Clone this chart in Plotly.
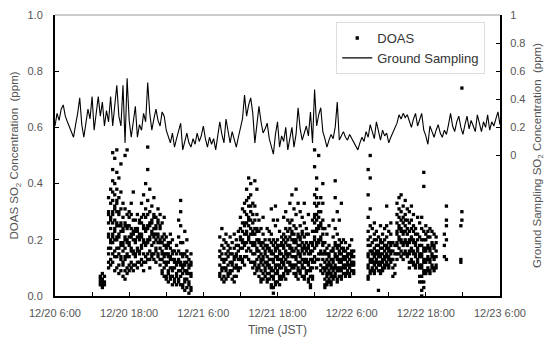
import plotly.graph_objects as go
import pandas as pd

# Ground sampling SO2 (ppm, right axis): readings every 20 minutes from 12/20 6:00
gs_start = "2012-12-20 06:00"
gs_step = "20min"
gs_ppm = [
    0.21, 0.30, 0.25, 0.33, 0.36, 0.28, 0.24, 0.20, 0.17, 0.13, 0.22, 0.30, 0.41, 0.22, 0.13, 0.25,
    0.33, 0.26, 0.42, 0.18, 0.30, 0.42, 0.28, 0.38, 0.21, 0.32, 0.24, 0.42, 0.21, 0.35, 0.50, 0.28,
    0.21, 0.50, 0.09, 0.55, 0.25, 0.13, 0.24, 0.35, 0.13, 0.22, 0.18, 0.30, 0.24, 0.52, 0.30, 0.18,
    0.26, 0.33, 0.25, 0.21, 0.31, 0.28, 0.18, 0.14, 0.09, 0.16, 0.06, 0.12, 0.18, 0.23, 0.04, 0.10,
    0.16, 0.09, 0.06, 0.12, 0.08, 0.16, 0.10, 0.14, 0.21, 0.12, 0.06, 0.13, 0.08, 0.12, 0.04, 0.14,
    0.24, 0.15, 0.09, 0.26, 0.17, 0.09, 0.17, 0.11, 0.06, 0.13, 0.20, 0.26, 0.43, 0.28, 0.36, 0.41,
    0.30, 0.09, 0.22, 0.35, 0.24, 0.16, 0.19, 0.23, 0.12, 0.07, 0.01, 0.15, 0.24, 0.06, 0.14, 0.10,
    0.20, 0.04, 0.12, 0.20, 0.06, 0.15, 0.34, 0.19, 0.11, 0.16, 0.21, 0.14, 0.31, 0.09, 0.47, 0.21,
    0.29, 0.34, 0.17, 0.12, 0.06, 0.11, 0.15, 0.12, 0.20, 0.38, 0.11, 0.14, 0.17, 0.13, 0.11, 0.15,
    0.12, 0.10, 0.07, 0.04, 0.09, 0.13, 0.10, 0.17, 0.13, 0.22, 0.17, 0.12, 0.24, 0.17, 0.11, 0.18,
    0.14, 0.16, 0.09, 0.13, 0.16, 0.19, 0.23, 0.29, 0.26, 0.30, 0.27, 0.29, 0.24, 0.20, 0.26, 0.30,
    0.21, 0.25, 0.30, 0.18, 0.14, 0.08, 0.21, 0.17, 0.13, 0.18, 0.22, 0.16, 0.13, 0.18, 0.15, 0.22,
    0.30, 0.21, 0.17, 0.24, 0.28, 0.20, 0.15, 0.22, 0.28, 0.19, 0.25, 0.21, 0.17, 0.29, 0.22, 0.17,
    0.24, 0.20, 0.29, 0.18, 0.24, 0.21, 0.26, 0.31, 0.22]

# DOAS SO2 (ppm, left axis): blocks of 20-minute columns, each column lists its readings
doas_step = "20min"
doas_block0_start = "2012-12-20 13:20"
doas_block0 = [[0.04, 0.05, 0.07, 0.06], [0.03, 0.05, 0.08, 0.06, 0.04], [0.04, 0.07, 0.05]]

doas_block1_start = "2012-12-20 14:40"
doas_block1 = [
    [.10, .12, .15, .17, .21, .22, .26, .29, .30, .35], [.11, .13, .17, .19, .20, .24, .27, .28, .33, .38],
    [.12, .15, .19, .21, .22, .26, .29, .30, .34, .37, .41, .45, .51],
    [.09, .14, .16, .20, .23, .24, .27, .31, .32, .36, .40, .49],
    [.10, .14, .17, .20, .21, .25, .26, .30, .33, .34, .38, .44, .52],
    [.08, .11, .15, .17, .21, .22, .25, .29, .30, .35, .42], [.09, .13, .14, .18, .19, .23, .25, .26, .31, .37, .47],
    [.07, .11, .12, .16, .18, .19, .23, .24, .28, .33], [.06, .09, .13, .14, .17, .20, .21, .25, .26, .31, .50],
    [.08, .10, .14, .15, .19, .20, .24, .25, .29, .52], [.09, .11, .14, .18, .19, .21, .25, .28, .30],
    [.10, .12, .16, .17, .21, .22, .24, .29, .33], [.09, .11, .15, .16, .20, .22, .23, .27, .37],
    [.11, .14, .15, .19, .20, .23, .24, .27], [.10, .12, .16, .17, .21, .23, .24, .29],
    [.12, .15, .16, .20, .21, .22, .26, .27], [.11, .13, .17, .18, .21, .22, .26, .28, .33],
    [.09, .12, .15, .19, .20, .24, .25, .29, .36], [.12, .14, .18, .19, .23, .24, .28, .31, .40],
    [.13, .15, .19, .20, .24, .25, .29, .34, .45, .53], [.10, .13, .16, .20, .21, .25, .26, .30, .38],
    [.14, .15, .18, .22, .23, .26, .27, .32], [.13, .15, .19, .21, .22, .24, .28, .29, .35],
    [.12, .16, .17, .20, .22, .24, .25, .28], [.14, .15, .19, .21, .22, .26, .27, .31],
    [.11, .13, .17, .19, .20, .24, .25, .29], [.08, .09, .13, .15, .16, .19, .21, .26],
    [.07, .10, .12, .14, .15, .18, .20, .22, .28], [.06, .07, .11, .12, .15, .17, .18, .21],
    [.05, .08, .09, .12, .14, .15, .18, .19], [.06, .07, .10, .13, .14, .17, .19, .22],
    [.04, .07, .09, .10, .13, .15, .16, .20], [.05, .06, .10, .12, .13, .16],
    [.04, .07, .08, .11, .12, .15, .18], [.05, .06, .09, .12, .13, .16, .21, .27],
    [.04, .07, .09, .11, .12, .15, .19, .25, .30, .34], [.03, .04, .08, .10, .11, .14, .15, .19],
    [.02, .05, .06, .09, .11, .12, .15, .23], [.03, .06, .08, .09, .12, .14, .16, .20],
    [.01, .04, .05, .08, .10, .11, .13], [.02, .03, .07, .08, .11, .12, .15]]

doas_block2_start = "2012-12-21 08:40"
doas_block2 = [
    [.07, .08, .11, .14, .16, .21], [.06, .09, .10, .13, .15, .18, .24], [.05, .07, .10, .12, .13, .17, .20],
    [.06, .09, .10, .13, .15, .19, .22], [.07, .08, .11, .14, .16, .18], [.08, .09, .12, .15, .17, .21],
    [.06, .09, .11, .12, .15, .19], [.05, .07, .10, .13, .14, .17, .22], [.07, .10, .11, .14, .15, .18, .20],
    [.09, .10, .13, .16, .18, .23], [.10, .13, .14, .17, .20, .21, .24, .28], [.12, .13, .17, .19, .20, .23, .26, .31],
    [.11, .14, .18, .19, .22, .25, .26, .30, .33], [.14, .16, .19, .22, .23, .26, .29, .34, .38],
    [.13, .17, .20, .21, .25, .27, .28, .32, .35, .42], [.12, .16, .19, .22, .24, .27, .30, .32, .36, .40],
    [.10, .12, .15, .18, .19, .22, .23, .26, .29, .33], [.08, .11, .12, .15, .18, .19, .22, .24, .27, .32, .41],
    [.09, .10, .13, .16, .17, .20, .23, .24, .29, .38], [.07, .10, .11, .14, .16, .19, .20, .23, .27],
    [.05, .06, .09, .12, .13, .15, .18, .19, .24], [.06, .08, .11, .13, .14, .17, .19, .22, .28],
    [.07, .09, .10, .12, .15, .16, .18, .20], [.05, .06, .08, .11, .12, .14, .17, .18, .24],
    [.06, .08, .10, .11, .13, .16, .17, .20, .23], [.03, .04, .07, .09, .10, .13, .15, .16, .19, .22, .31],
    [.01, .03, .06, .07, .09, .12, .13, .15, .18, .20, .27], [.04, .05, .08, .10, .11, .14, .16, .17, .19, .25, .32],
    [.05, .08, .09, .11, .13, .14, .17, .18, .20, .27], [.04, .06, .07, .10, .11, .13, .15, .16, .18, .23],
    [.06, .07, .10, .12, .13, .15, .18, .19, .21], [.07, .08, .11, .12, .14, .17, .18, .20, .22, .28],
    [.06, .09, .10, .13, .15, .16, .19, .21, .24, .30], [.08, .09, .12, .14, .15, .18, .20, .23, .27],
    [.09, .11, .12, .15, .17, .18, .21, .24, .26, .33], [.10, .11, .14, .16, .17, .20, .22, .23, .27, .36],
    [.08, .10, .11, .14, .16, .19, .20, .22, .25, .31], [.07, .08, .11, .13, .14, .17, .19, .20, .24, .29, .38],
    [.06, .09, .10, .12, .15, .16, .18, .21, .22, .33], [.08, .09, .12, .14, .15, .18, .20, .21, .25, .30],
    [.07, .10, .11, .13, .16, .17, .19, .22, .23, .28], [.06, .07, .10, .12, .13, .15, .17, .18, .21, .26, .33],
    [.08, .09, .12, .13, .16, .17, .19, .22, .24], [.05, .06, .09, .11, .12, .15, .17, .18, .22, .29],
    [.03, .04, .07, .09, .10, .13, .15, .16, .19], [.06, .07, .10, .12, .13, .16, .18, .19, .23, .27],
    [.12, .14, .17, .20, .21, .23, .26, .28, .29, .33, .36, .46, .52],
    [.10, .13, .18, .19, .23, .24, .27, .29, .32, .35, .38, .42],
    [.13, .15, .19, .20, .24, .25, .28, .30, .33, .50], [.09, .11, .15, .16, .20, .21, .25, .26, .30, .35],
    [.08, .10, .13, .15, .18, .19, .22, .24, .27, .33, .40], [.03, .04, .06, .09, .10, .12, .15, .16, .19, .24],
    [.04, .05, .07, .08, .10, .11, .13, .15, .17, .22], [.05, .06, .08, .09, .11, .12, .14, .15, .18, .25],
    [.04, .05, .07, .08, .10, .11, .13, .16], [.06, .07, .09, .10, .12, .13, .16, .17, .21, .27],
    [.07, .08, .10, .11, .14, .15, .18, .19, .24, .35, .41], [.05, .06, .09, .10, .13, .14, .17, .18, .22, .30],
    [.07, .09, .10, .12, .13, .15, .16, .18, .20, .27], [.06, .07, .09, .10, .12, .13, .15, .17, .19, .33],
    [.08, .10, .11, .13, .14, .16, .17, .20], [.07, .08, .10, .11, .13, .14, .16, .19],
    [.08, .09, .11, .12, .14, .15, .17], [.07, .08, .10, .11, .13, .15, .18],
    [.09, .11, .12, .14, .15, .16, .20], [.08, .09, .11, .12, .14, .16]]

doas_block3_start = "2012-12-22 08:40"
doas_block3 = [
    [.06, .07, .10, .11, .14, .15, .18, .20, .23, .28, .36, .45], [.08, .09, .12, .13, .16, .18, .21, .25, .31, .42, .50],
    [.09, .10, .12, .13, .15, .16, .19, .24], [.08, .09, .11, .12, .14, .15, .17, .20, .22, .26],
    [.10, .12, .13, .15, .16, .18, .20, .23], [.02, .09, .11, .12, .14, .15, .16, .18, .21],
    [.08, .09, .11, .12, .14, .15, .17, .19, .20, .25], [.09, .10, .12, .13, .15, .17, .19, .22],
    [.10, .11, .13, .14, .16, .18, .20, .24], [.11, .12, .14, .15, .17, .18, .21, .25, .32],
    [.10, .11, .13, .14, .16, .17, .19, .23], [.12, .13, .15, .16, .18, .19, .22, .26],
    [.07, .10, .13, .16, .19], [.08, .11, .15, .18],
    [.13, .15, .18, .19, .22, .23, .26, .29, .33], [.15, .17, .20, .21, .24, .25, .28, .31, .35],
    [.14, .16, .19, .20, .23, .24, .27, .30, .36], [.13, .15, .18, .19, .22, .23, .26, .28, .32],
    [.15, .16, .19, .20, .23, .25, .27, .29, .34], [.14, .15, .18, .19, .22, .24, .27, .31],
    [.10, .12, .15, .16, .19, .20, .23, .26, .30], [.12, .13, .16, .17, .20, .21, .24, .27, .32],
    [.11, .12, .15, .16, .19, .20, .23, .25, .29], [.10, .11, .14, .15, .18, .19, .22, .24],
    [.12, .13, .16, .17, .20, .22, .28], [.05, .07, .10, .11, .14, .15, .18, .21, .26],
    [.00, .02, .05, .07, .10, .11, .14, .15, .18, .20, .24, .28],
    [.03, .05, .08, .09, .12, .13, .16, .17, .20, .23, .39, .44],
    [.08, .09, .12, .13, .16, .17, .20, .22, .25], [.09, .10, .13, .14, .17, .18, .21, .23],
    [.08, .09, .12, .13, .16, .17, .21, .24], [.10, .11, .14, .15, .18, .19, .23],
    [.09, .10, .13, .14, .17, .18, .22], [.10, .11, .14, .16, .19, .21]]

doas_extra_times = ["2012-12-22 21:00", "2012-12-22 21:00", "2012-12-22 21:00",
                    "2012-12-22 21:20", "2012-12-22 21:20", "2012-12-22 21:20", "2012-12-22 21:20", "2012-12-22 21:20",
                    "2012-12-22 23:40", "2012-12-22 23:40", "2012-12-22 23:40",
                    "2012-12-22 23:50", "2012-12-22 23:50", "2012-12-22 23:50"]
doas_extra_ppm = [0.14, 0.18, 0.22, 0.13, 0.20, 0.25, 0.27, 0.32, 0.12, 0.13, 0.25, 0.27, 0.30, 0.74]

x_range = ["2012-12-20 06:00", "2012-12-23 06:00"]
x_tick_text = ["12/20 6:00", "", "12/20 18:00", "", "12/21 6:00", "", "12/21 18:00", "",
               "12/22 6:00", "", "12/22 18:00", "", "12/23 6:00"]
y_ticks = [0.0, 0.2, 0.4, 0.6, 0.8, 1.0]
y2_ticks = [0, 0.2, 0.4, 0.6, 0.8, 1]
y2_text = ["0", "0.2", "0.4", "0.6", "0.8", "1"]

# ---- assemble series
x_tick_times = pd.date_range(x_range[0], x_range[1], freq="6h")
gs_x = pd.date_range(gs_start, periods=len(gs_ppm), freq=gs_step)

dx, dy = [], []
for start, block in [(doas_block0_start, doas_block0), (doas_block1_start, doas_block1),
                     (doas_block2_start, doas_block2), (doas_block3_start, doas_block3)]:
    times = pd.date_range(start, periods=len(block), freq=doas_step)
    for t, col in zip(times, block):
        for v in col:
            dx.append(t)
            dy.append(v)
dx += list(pd.to_datetime(doas_extra_times))
dy += doas_extra_ppm

FONT = "Liberation Sans, Arial, sans-serif"
GRAY = "#555555"

fig = go.Figure()
fig.add_trace(go.Scatter(x=dx, y=dy, mode="markers", name="DOAS",
                         marker=dict(symbol="square", size=3.3, color="black", line=dict(width=0)),
                         yaxis="y"))
fig.add_trace(go.Scatter(x=list(gs_x), y=gs_ppm, mode="lines", name="Ground Sampling",
                         line=dict(color="black", width=1.1), yaxis="y2"))

fig.update_layout(
    width=548, height=340,
    margin=dict(l=55, r=48, t=15, b=44),
    paper_bgcolor="white", plot_bgcolor="white",
    font=dict(family=FONT, color=GRAY, size=11),
    showlegend=True,
    legend=dict(x=0.632, y=0.975, xanchor="left", yanchor="top",
                bgcolor="white", bordercolor="#dddddd", borderwidth=1,
                font=dict(size=13, color="#333333"), tracegroupgap=0, itemwidth=30),
    xaxis=dict(type="date", range=x_range, automargin=False,
               tickmode="array", tickvals=list(x_tick_times), ticktext=x_tick_text,
               ticks="inside", ticklen=4, tickcolor="black", tickwidth=1,
               showline=True, linecolor="black", linewidth=2, showgrid=False, zeroline=False,
               tickfont=dict(size=11, color=GRAY), ticklabelstandoff=6,
               title=dict(text="Time (JST)", font=dict(size=12, color=GRAY), standoff=7)),
    yaxis=dict(range=[0, 1], tickmode="array", tickvals=y_ticks, tickformat=".1f", automargin=False,
               ticks="inside", ticklen=4, tickcolor="black", tickwidth=1,
               showline=True, linecolor="black", linewidth=2, showgrid=False, zeroline=False,
               tickfont=dict(size=11, color=GRAY), ticklabelstandoff=8,
               title=dict(text="DOAS SO<sub>2</sub> Concentration\u00a0\u00a0(ppm)",
                          font=dict(size=11.5, color=GRAY), standoff=6)),
    yaxis2=dict(overlaying="y", side="right", range=[-1, 1], tickmode="array", automargin=False,
                tickvals=y2_ticks, ticktext=y2_text,
                ticks="inside", ticklen=4, tickcolor="black", tickwidth=1,
                showline=True, linecolor="black", linewidth=2, showgrid=False, zeroline=False,
                tickfont=dict(size=11, color=GRAY), ticklabelstandoff=6,
                title=dict(text="Ground Sampling SO<sub>2</sub> Concentration\u00a0\u00a0(ppm)",
                           font=dict(size=11.5, color=GRAY), standoff=8)),
    shapes=[dict(type="line", xref="paper", yref="paper", x0=0, x1=1, y0=1, y1=1,
                 line=dict(color="#999999", width=1))],
)

fig.write_html("out.html")
